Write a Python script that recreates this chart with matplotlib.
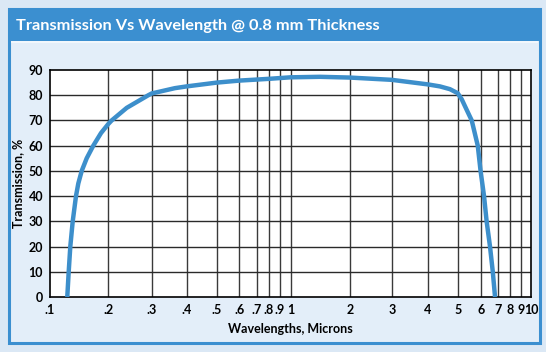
import numpy as np
import matplotlib
matplotlib.use("Agg")
import matplotlib.pyplot as plt
from matplotlib.patches import Rectangle

# ------------------------------------------------------------------
# Data
# ------------------------------------------------------------------
wavelength = [0.1228, 0.1249, 0.1273, 0.1310, 0.1362, 0.140, 0.1458, 0.1547,
              0.1673, 0.1834, 0.2, 0.2064, 0.2376, 0.2907, 0.3, 0.363, 0.4,
              0.5, 0.6, 0.8, 1.0, 1.41, 2.0, 3.0, 4.0, 4.38, 4.72, 5.0, 5.16,
              5.30, 5.43, 5.58, 5.85, 5.98, 6.17, 6.32, 6.52, 6.69, 6.83]
transmission = [0, 10, 20, 30, 40, 45, 50, 55,
                60, 65, 68.6, 70, 75, 80, 80.7, 82.8, 83.5,
                85, 85.8, 86.5, 87.1, 87.3, 87.0, 86.1, 84.3, 83.5, 82.4, 80.8, 78.4,
                75.5, 72.9, 70, 60, 50, 40, 30, 20, 10, 0]

x_ticks = [0.1, 0.2, 0.3, 0.4, 0.5, 0.6, 0.7, 0.8, 0.9,
           1, 2, 3, 4, 5, 6, 7, 8, 9, 10]
x_tick_labels = [".1", ".2", ".3", ".4", ".5", ".6", ".7", ".8", ".9",
                 "1", "2", "3", "4", "5", "6", "7", "8", "9", "10"]
y_ticks = [0, 10, 20, 30, 40, 50, 60, 70, 80, 90]

# The printed chart uses a hand-drawn, slightly uneven log axis.
# Gridline positions (fraction of axis width) for each x tick.
grid_frac = np.array([0, 58.3, 101.7, 136.7, 166.7, 189.3, 206.7, 219, 230,
                      240.5, 300, 341.7, 377.7, 407.7, 431, 447.7, 460,
                      470.7, 481]) / 481.0
log_ticks = np.log10(x_ticks)


def fwd(x):
    x = np.clip(np.asarray(x, dtype=float), 1e-6, None)
    return np.interp(np.log10(x), log_ticks, grid_frac)


def inv(y):
    return 10 ** np.interp(np.asarray(y, dtype=float), grid_frac, log_ticks)


# ------------------------------------------------------------------
# Figure
# ------------------------------------------------------------------
W, H = 546, 352
BLUE = "#3b8fd0"
PANEL = "#e3eef9"
OUTER = "#dbe8f5"
CURVE = "#3d8fcb"
FONT = "Lato"

fig = plt.figure(figsize=(W / 100, H / 100), dpi=100, facecolor=OUTER)

# panel with border and title band
fig.patches.append(Rectangle((9 / W, (H - 343) / H), 531 / W, 334 / H,
                             transform=fig.transFigure, facecolor=PANEL,
                             edgecolor=BLUE, linewidth=2.2, zorder=0))
fig.patches.append(Rectangle((9 / W, (H - 41) / H), 531 / W, 32 / H,
                             transform=fig.transFigure, facecolor=BLUE,
                             edgecolor="none", zorder=1))
fig.patches.append(Rectangle((11 / W, (H - 43) / H), 527 / W, 2 / H,
                             transform=fig.transFigure, facecolor="#f2f7fc",
                             edgecolor="none", zorder=1))
fig.text(16 / W, (H - 26) / H, "Transmission Vs Wavelength @ 0.8 mm Thickness",
         color="white", fontsize=11.8, fontweight="bold", family=FONT,
         va="center", ha="left")

ax = fig.add_axes([50 / W, (H - 297) / H, 481 / W, 227 / H])
ax.set_zorder(5)
ax.set_facecolor("white")
ax.set_xscale("function", functions=(fwd, inv))
ax.set_xlim(0.1, 10)
ax.set_ylim(0, 90)

ax.set_xticks(x_ticks)
ax.set_xticklabels(x_tick_labels)
ax.xaxis.set_minor_locator(matplotlib.ticker.NullLocator())
ax.set_yticks(y_ticks)
ax.set_yticklabels([str(v) for v in y_ticks])

for v in x_ticks[1:-1]:
    ax.axvline(v, color="#3a3a3a", linewidth=1.0, zorder=1)
for v in y_ticks[1:-1]:
    ax.axhline(v, color="#2a2a2a", linewidth=1.0, zorder=1)

ax.plot(wavelength, transmission, color=CURVE, linewidth=3.2,
        solid_capstyle="butt", solid_joinstyle="round", zorder=3)

ax.tick_params(length=0, pad=5, labelsize=9)
for lab in ax.get_xticklabels() + ax.get_yticklabels():
    lab.set_fontweight("bold")
    lab.set_family(FONT)
for s in ax.spines.values():
    s.set_color("black")
    s.set_linewidth(1.2)

ax.set_xlabel("Wavelengths, Microns", fontsize=9, fontweight="bold",
              family=FONT, labelpad=5)
ax.set_ylabel("Transmission, %", fontsize=9, fontweight="bold",
              family=FONT, labelpad=3)

fig.savefig("out.png", dpi=100, facecolor=OUTER)
